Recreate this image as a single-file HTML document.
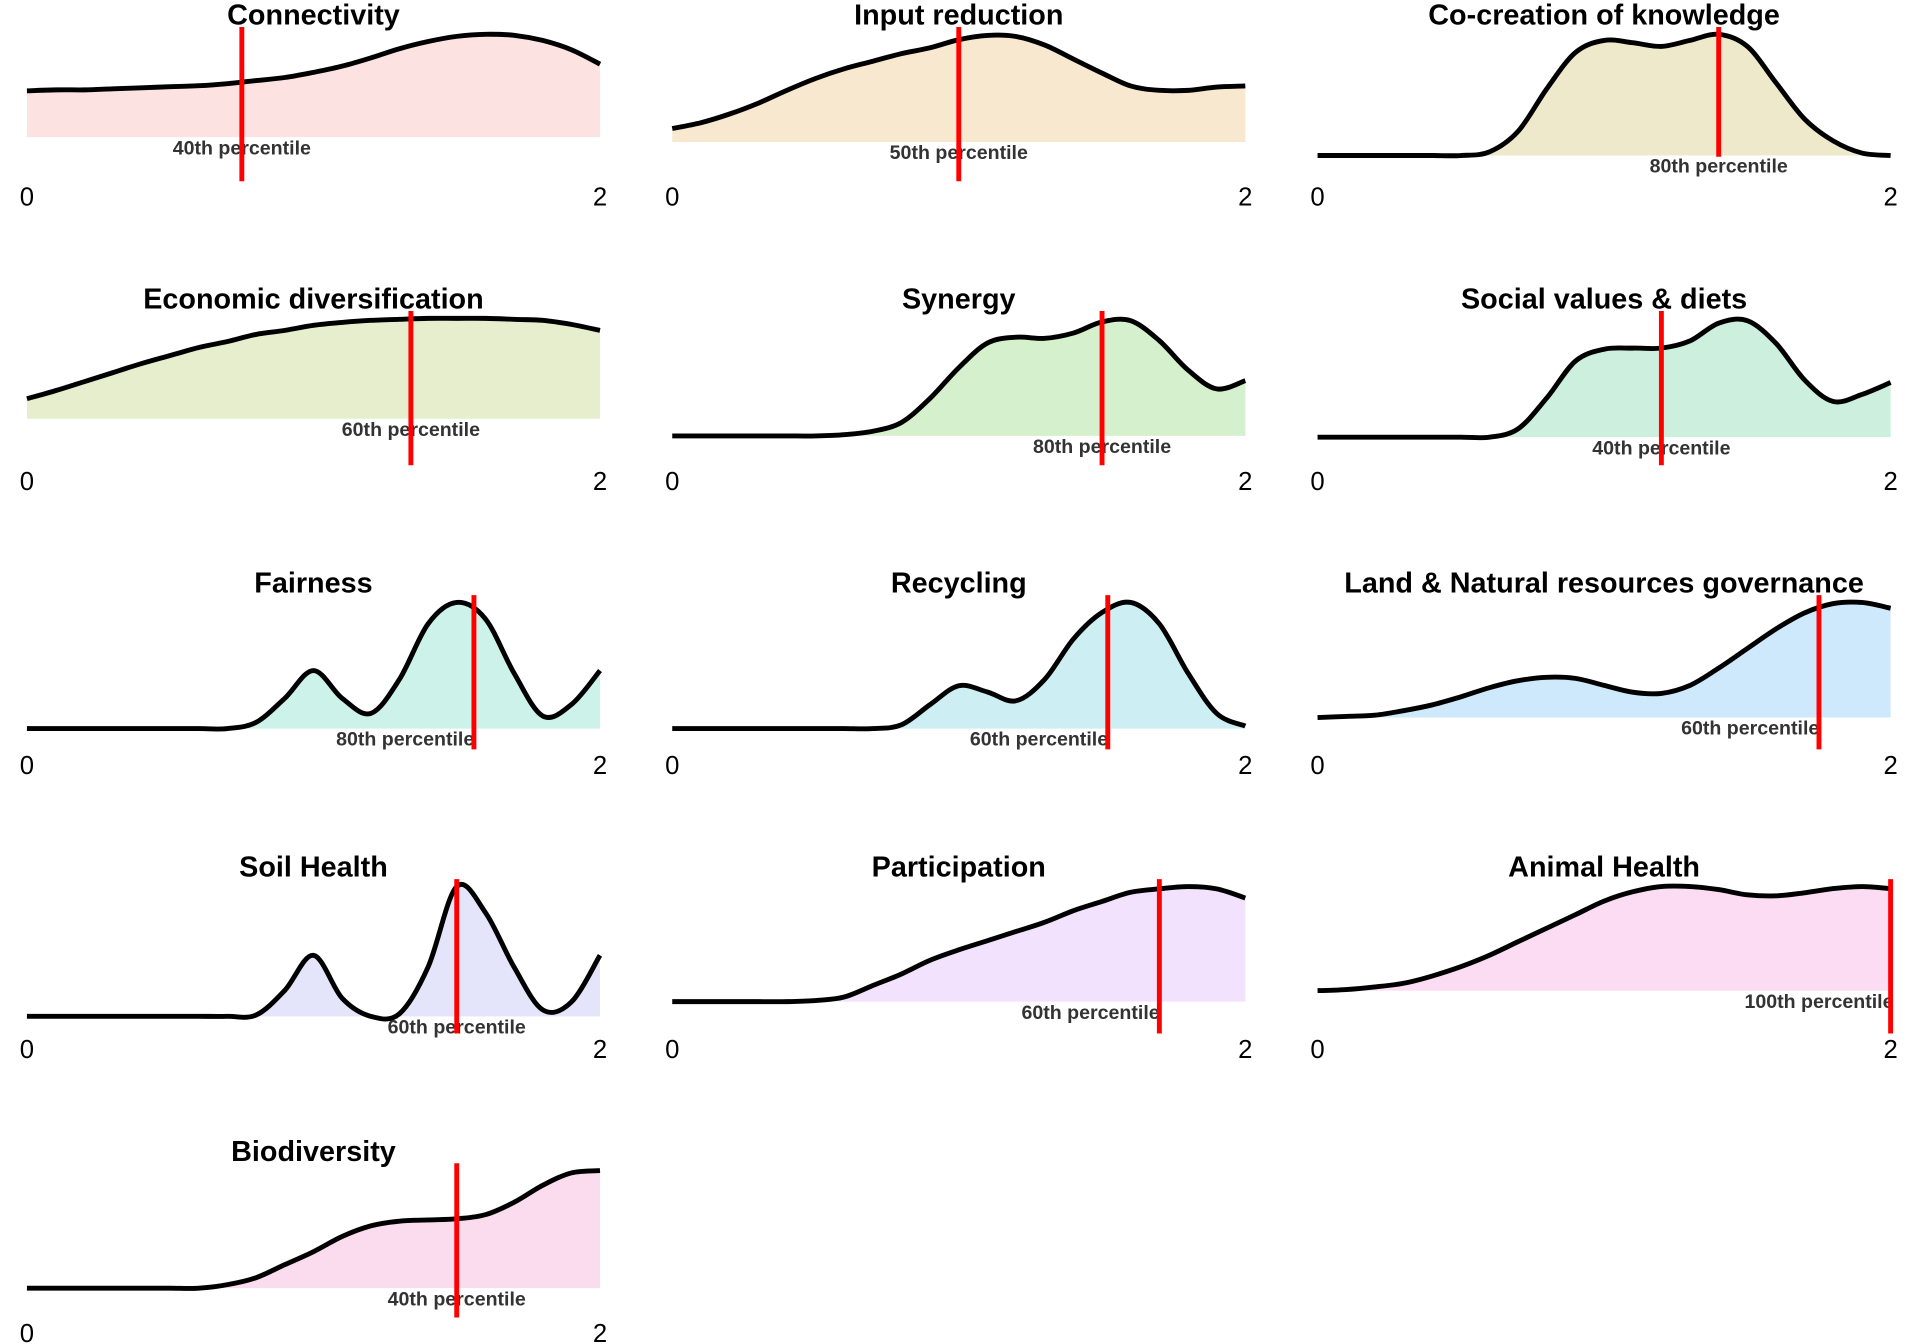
<!DOCTYPE html>
<html><head><meta charset="utf-8"><style>
html,body{margin:0;padding:0;background:#fff}
svg{display:block}
text{font-family:"Liberation Sans",Arial,sans-serif}
</style></head><body>
<svg id="chart" width="1920" height="1344" viewBox="0 0 1568 1097.6" xmlns="http://www.w3.org/2000/svg"></svg>
<script>
const titles=["Connectivity","Input reduction","Co-creation of knowledge","Economic diversification","Synergy","Social values & diets","Fairness","Recycling","Land & Natural resources governance","Soil Health","Participation","Animal Health","Biodiversity"];
const percentiles=[40,50,80,60,80,40,80,60,60,60,60,100,40];
const markerValues=[0.75,1.0,1.40,1.34,1.5,1.2,1.56,1.52,1.75,1.5,1.7,2.0,1.5];
const labelValues=[0.75,1.0,1.40,1.34,1.5,1.2,1.32,1.28,1.51,1.5,1.46,1.75,1.5];
const densities=[
[0.45,0.46,0.46,0.47,0.48,0.49,0.5,0.52,0.55,0.58,0.63,0.69,0.77,0.86,0.93,0.98,1.0,0.99,0.94,0.85,0.71],
[0.125,0.18,0.26,0.36,0.48,0.59,0.68,0.75,0.82,0.875,0.95,0.99,0.98,0.9,0.77,0.64,0.52,0.48,0.48,0.51,0.52],
[0,0,0,0,0,0,0.03,0.2,0.55,0.85,0.95,0.93,0.9,0.95,1.0,0.9,0.6,0.3,0.12,0.02,0],
[0.2,0.28,0.37,0.46,0.55,0.63,0.71,0.77,0.84,0.88,0.93,0.96,0.98,0.99,1.0,1.0,1.0,0.99,0.98,0.94,0.88],
[0,0,0,0,0,0,0.01,0.04,0.115,0.32,0.58,0.79,0.84,0.83,0.875,0.97,0.98,0.81,0.56,0.4,0.47],
[0,0,0,0,0,0,0,0.07,0.33,0.64,0.74,0.75,0.75,0.81,0.96,0.98,0.79,0.48,0.3,0.36,0.46],
[0,0,0,0,0,0,0,0,0.05,0.24,0.46,0.24,0.12,0.39,0.83,1.0,0.87,0.44,0.1,0.19,0.46],
[0,0,0,0,0,0,0,0,0.03,0.19,0.34,0.29,0.22,0.39,0.71,0.92,1.0,0.83,0.44,0.12,0.02],
[0,0.01,0.02,0.06,0.11,0.18,0.26,0.32,0.35,0.34,0.28,0.22,0.21,0.28,0.43,0.6,0.77,0.91,0.99,1.0,0.95],
[0,0,0,0,0,0,0,0,0.01,0.2,0.47,0.14,0,0.02,0.38,1.0,0.8,0.38,0.05,0.11,0.47],
[0,0,0,0,0,0.01,0.04,0.14,0.24,0.36,0.45,0.53,0.61,0.69,0.79,0.87,0.95,0.98,1.0,0.98,0.9],
[0,0.01,0.035,0.07,0.14,0.23,0.34,0.47,0.6,0.73,0.86,0.95,1.0,1.0,0.97,0.92,0.91,0.94,0.98,1.0,0.98],
[0,0,0,0,0,0,0,0.03,0.09,0.2,0.31,0.44,0.53,0.57,0.58,0.59,0.625,0.73,0.875,0.98,1.0]
];
const baselines=[112,116,127,110,124,125,131,131,122,134,122,113,124];
const fills=["#fde2e2","#f7e8cf","#efe9cc","#e7eecd","#d4f0cc","#cdf0de","#cdf2ea","#cdeff4","#cde9fb","#e4e4fb","#f2e2fd","#fbdcf3","#fbdcee"];
const redBottoms=[148,148,128,148,148,148,148,148,148,148,148,148,148];

const NS="http://www.w3.org/2000/svg";
const svg=document.getElementById('chart');
function el(tag,attrs,parent){const e=document.createElementNS(NS,tag);for(const k in attrs)e.setAttribute(k,attrs[k]);(parent||svg).appendChild(e);return e;}
const colX=[22,549,1076], W=468, rowH=232, TOP=28;
function path(pts){let d=`M${pts[0][0]},${pts[0][1]}`;for(let i=0;i<pts.length-1;i++){const p0=pts[Math.max(0,i-1)],p1=pts[i],p2=pts[i+1],p3=pts[Math.min(pts.length-1,i+2)];
const c1=[p1[0]+(p2[0]-p0[0])/6,p1[1]+(p2[1]-p0[1])/6],c2=[p2[0]-(p3[0]-p1[0])/6,p2[1]-(p3[1]-p1[1])/6];
d+=` C${c1[0].toFixed(1)},${c1[1].toFixed(1)} ${c2[0].toFixed(1)},${c2[1].toFixed(1)} ${p2[0].toFixed(1)},${p2[1].toFixed(1)}`;}return d;}
titles.forEach((t,i)=>{
  const c=i%3,r=Math.floor(i/3),x0=colX[c],oy=r*rowH;
  const g=el('g',{});
  
  
  const base=oy+baselines[i], top=oy+TOP;
  const xs=v=>x0+v/2*W, ys=d=>base-d*(base-top);
  const vals=densities[i];
  const pts=vals.map((d,k)=>[xs(k*2/(vals.length-1)),ys(d)]);
  const lineD=path(pts);
  const area=el('path',{d:lineD+` L${xs(2)},${base} L${xs(0)},${base} Z`,fill:fills[i],stroke:'none'},g);
  
  
  const line=el('path',{d:lineD,fill:'none',stroke:'#000','stroke-width':4,'stroke-linejoin':'round'},g);
  
  
  const lab=el('text',{x:xs(labelValues[i]),y:base+14,'text-anchor':'middle','font-size':16,'font-weight':'bold',fill:'#333'},g);
  lab.textContent=percentiles[i]+'th percentile';
  
  
  const rl=el('line',{x1:xs(markerValues[i]),x2:xs(markerValues[i]),y1:oy+22,y2:oy+redBottoms[i],stroke:'#ff0000','stroke-width':4},g);
  
  
  const tt=el('text',{x:x0+W/2,y:oy+20,'text-anchor':'middle','font-size':23.5,'font-weight':'bold',fill:'#000'},g);
  tt.textContent=t;
  
  
  [0,2].forEach(v=>{const a=el('text',{x:xs(v),y:oy+168,'text-anchor':'middle','font-size':21,fill:'#000'},g);
    a.textContent=String(v);
    
    });
});
</script>
</body></html>
